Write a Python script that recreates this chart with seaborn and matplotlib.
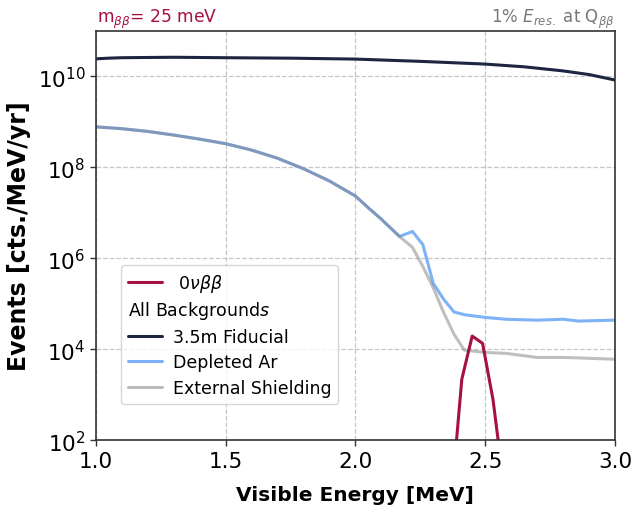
import numpy as np
import pandas as pd
import seaborn as sns
import matplotlib
matplotlib.use('Agg')
import matplotlib.pyplot as plt
from matplotlib.legend_handler import HandlerBase
from matplotlib.text import Text
from matplotlib.lines import Line2D

# values, rates given as log10(cts./MeV/yr)
fid_energy = [1.0, 1.05, 1.1, 1.3, 1.5, 1.75, 2.0, 2.25, 2.5, 2.65, 2.8, 2.9, 3.0]
fid_log10 = [10.385, 10.40, 10.41, 10.42, 10.41, 10.40, 10.38, 10.33, 10.27, 10.21, 10.12, 10.04, 9.92]

bkg_energy = [1.0, 1.1, 1.2, 1.3, 1.4, 1.5, 1.6, 1.7, 1.8, 1.9, 2.0, 2.05, 2.1, 2.17,
              2.22, 2.26, 2.30, 2.34, 2.38, 2.42, 2.50, 2.58, 2.70, 2.80, 2.86, 3.0]
dep_ar_log10 = [8.89, 8.85, 8.79, 8.71, 8.62, 8.52, 8.38, 8.20, 7.97, 7.70, 7.37, 7.11, 6.86, 6.48,
                6.59, 6.30, 5.45, 5.10, 4.82, 4.76, 4.70, 4.66, 4.64, 4.66, 4.62, 4.64]
ext_shield_log10 = [8.89, 8.85, 8.79, 8.71, 8.62, 8.52, 8.38, 8.20, 7.97, 7.70, 7.37, 7.11, 6.86, 6.48,
                    6.24, 5.82, 5.35, 4.81, 4.33, 3.98, 3.93, 3.91, 3.82, 3.82, 3.81, 3.78]

sig_energy = [2.37, 2.41, 2.45, 2.49, 2.53, 2.57]
sig_log10 = [0.7, 3.34, 4.29, 4.13, 2.90, 1.1]

c_sig = '#a51140'
c_fid = '#1c2541'
c_dep = '#7eb2f7'
c_ext = '#808080'


def frame(x, y):
    return pd.DataFrame({'E': x, 'rate': 10 ** np.array(y)})


class HeaderHandler(HandlerBase):
    # draws a plain text entry in place of the handle
    def create_artists(self, legend, orig_handle, xdescent, ydescent, width, height, fontsize, trans):
        t = Text(-xdescent, -ydescent + height / 2, orig_handle, fontsize=fontsize,
                 va='center', ha='left', color='black', transform=trans)
        return [t]


sns.set_style('white')
plt.rcParams['font.family'] = ['DejaVu Sans']
plt.rcParams['mathtext.fontset'] = 'dejavusans'
plt.rcParams['text.color'] = 'black'
plt.rcParams['axes.labelcolor'] = 'black'
plt.rcParams['xtick.color'] = 'black'
plt.rcParams['ytick.color'] = 'black'

fig = plt.figure(figsize=(6.34, 5.06), dpi=100)
ax = fig.add_axes([0.151, 0.128, 0.819, 0.809])

sns.lineplot(data=frame(fid_energy, fid_log10), x='E', y='rate', color=c_fid, lw=2.2, ax=ax)
sns.lineplot(data=frame(bkg_energy, dep_ar_log10), x='E', y='rate', color=c_dep, lw=2.2, ax=ax)
sns.lineplot(data=frame(bkg_energy, ext_shield_log10), x='E', y='rate', color=c_ext, alpha=0.5, lw=2.2, ax=ax)
sns.lineplot(data=frame(sig_energy, sig_log10), x='E', y='rate', color=c_sig, lw=2.2, ax=ax)

ax.set_yscale('log')
ax.set_xlim(1.0, 3.0)
ax.set_ylim(1e2, 1e11)
ax.set_xticks([1.0, 1.5, 2.0, 2.5, 3.0])
ax.set_yticks([1e2, 1e4, 1e6, 1e8, 1e10])
ax.minorticks_off()
ax.tick_params(axis='both', which='major', labelsize=15.5, direction='out', length=4,
               width=1, color='#333333', bottom=True, left=True)
ax.grid(True, which='major', linestyle='--', color='#b8b8b8', lw=0.9, alpha=0.8)
for sp in ax.spines.values():
    sp.set_color('#333333')
    sp.set_linewidth(1.2)

ax.set_xlabel('Visible Energy [MeV]', fontsize=14.5, fontweight='bold', labelpad=10)
ax.set_ylabel('Events [cts./MeV/yr]', fontsize=17, fontweight='bold', labelpad=5)

ax.text(0.003, 1.022, r'm$_{\beta\beta}$= 25 meV', color=c_sig, fontsize=12.3,
        transform=ax.transAxes, ha='left', va='baseline')
ax.text(1.0, 1.022, r'1% $E_{res.}$ at Q$_{\beta\beta}$', color='#777777', fontsize=12,
        transform=ax.transAxes, ha='right', va='baseline')

handles = [Line2D([], [], color=c_sig, lw=2.2),
           'All Background$s$',
           Line2D([], [], color=c_fid, lw=2.2),
           Line2D([], [], color=c_dep, lw=2.2),
           Line2D([], [], color='#bbbbbb', lw=2.2)]
labels = [r' $0\nu\beta\beta$', '', '3.5m Fiducial', 'Depleted Ar', 'External Shielding']
ax.legend(handles, labels, handler_map={str: HeaderHandler()}, loc='lower left',
          bbox_to_anchor=(0.048, 0.088), borderaxespad=0, fontsize=12.5, frameon=True,
          labelspacing=0.45, handletextpad=0.6)

fig.savefig('out.png', dpi=100)
